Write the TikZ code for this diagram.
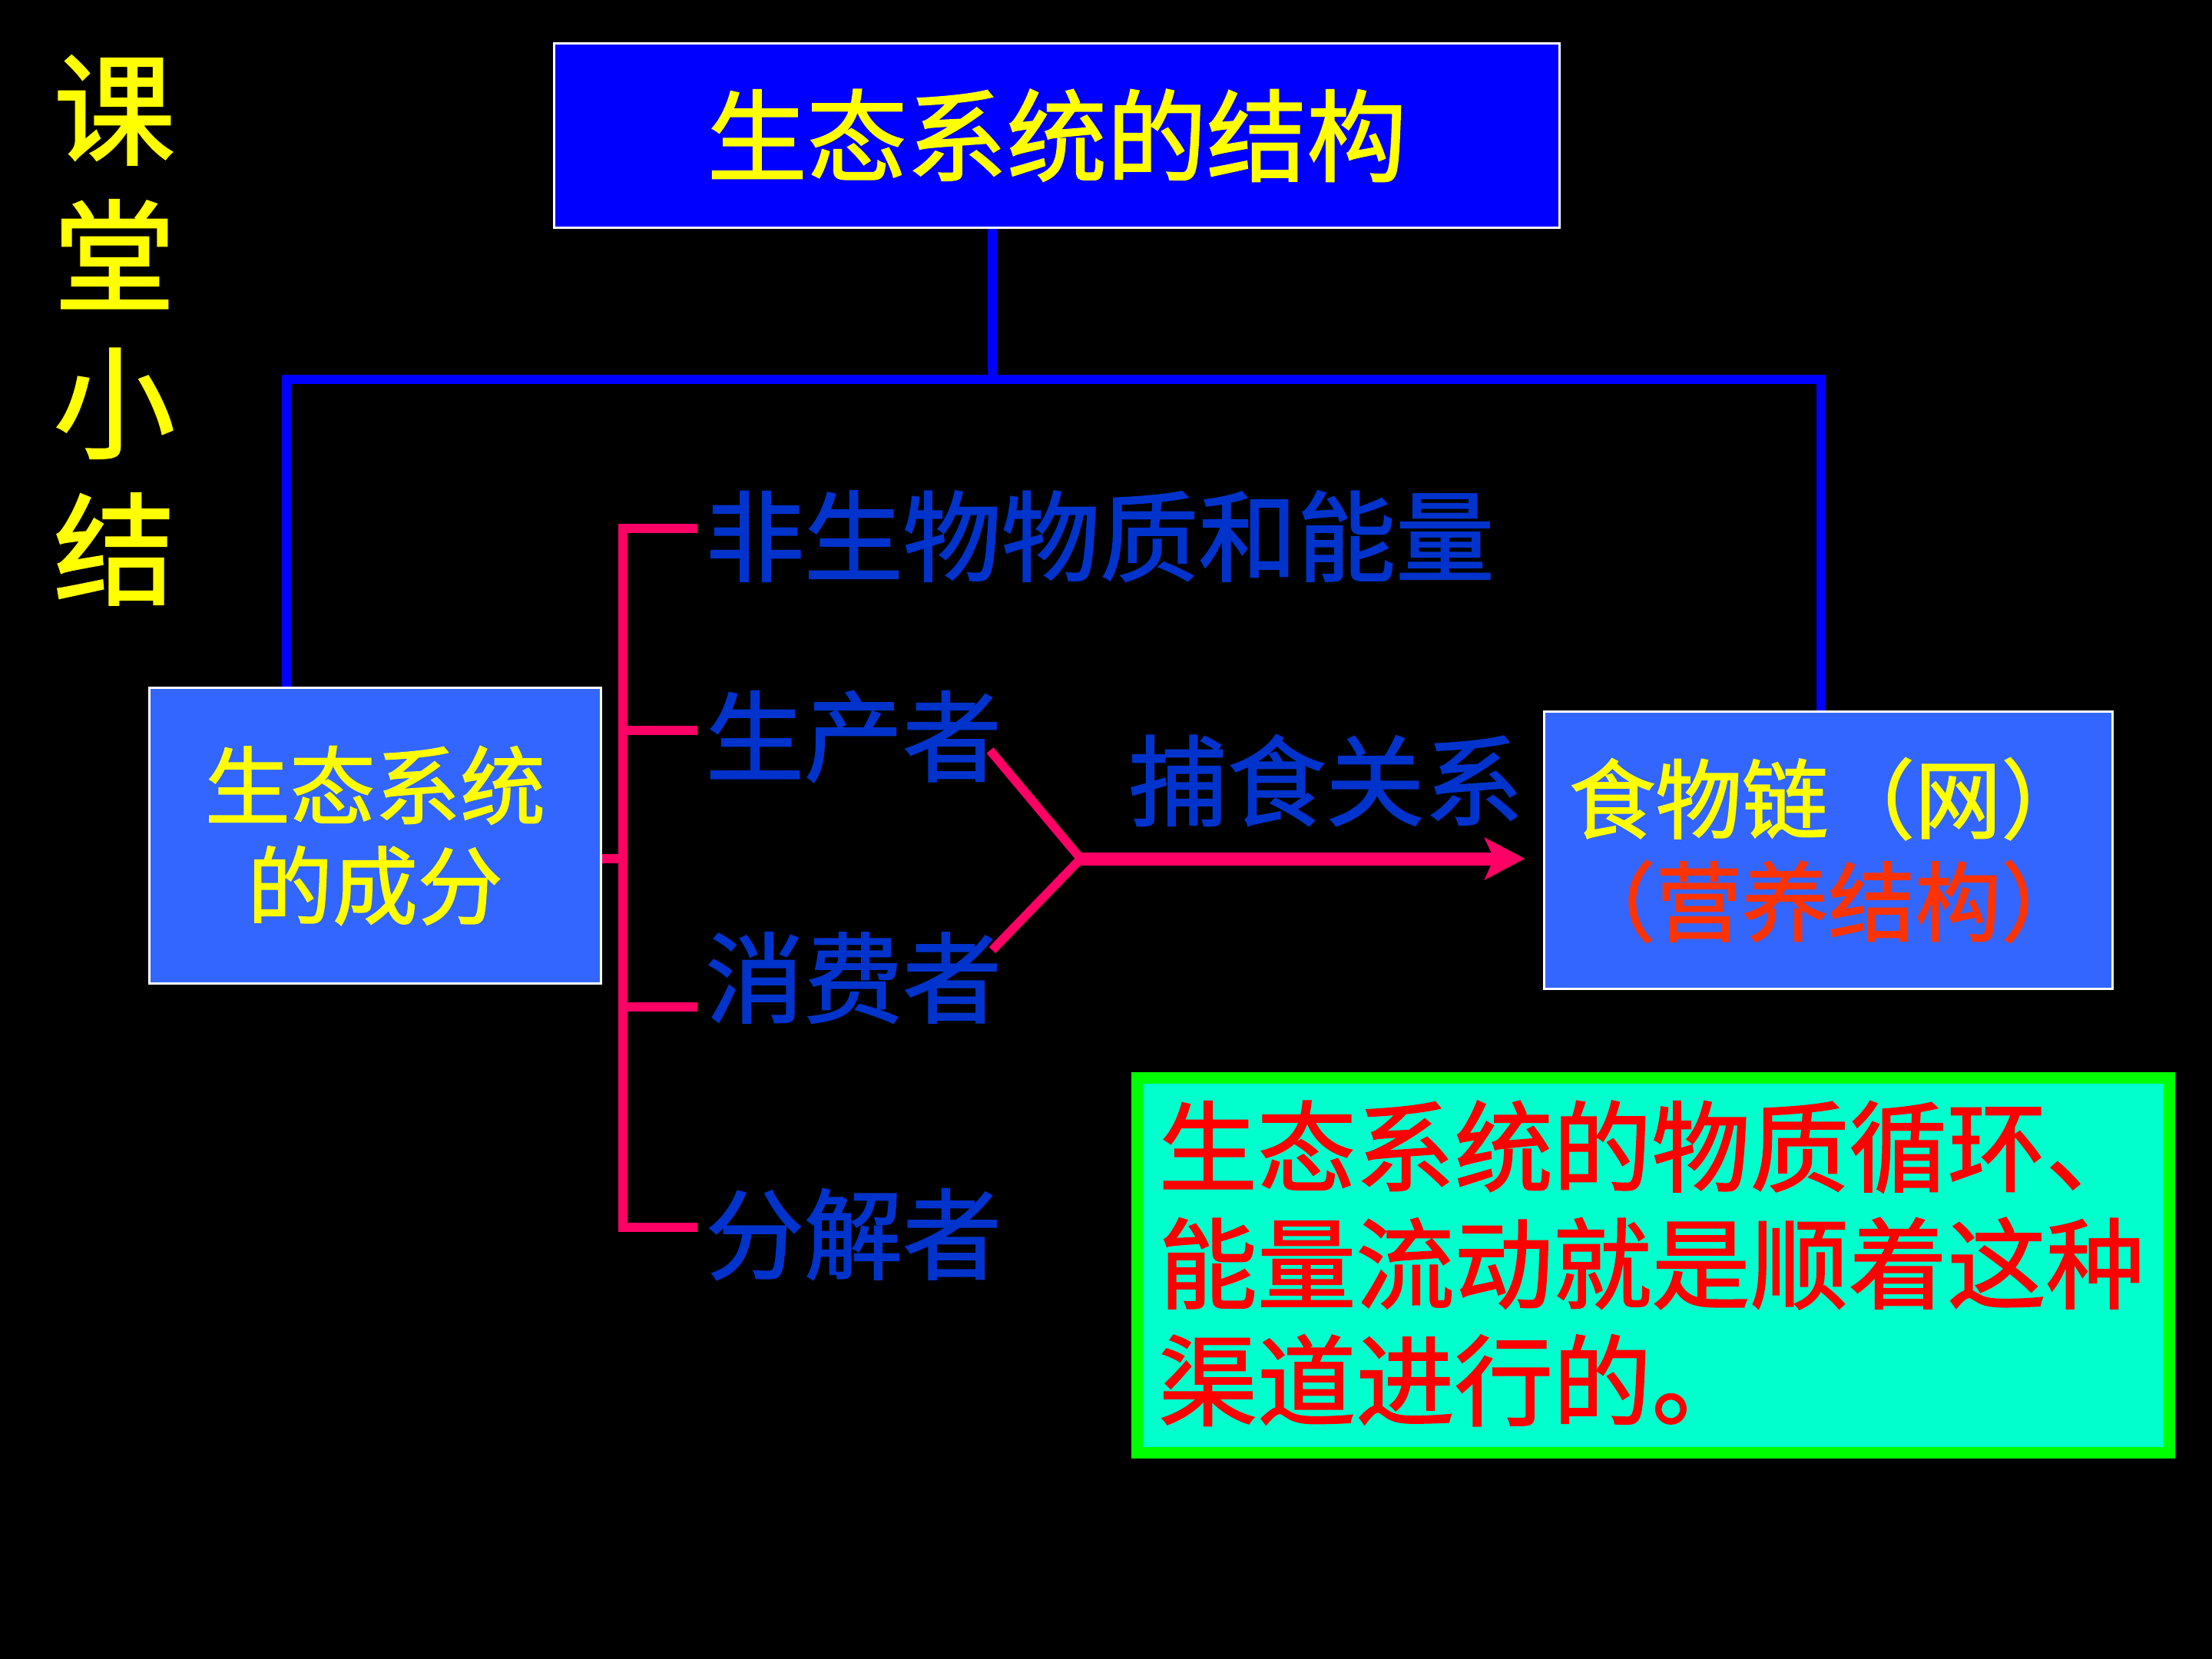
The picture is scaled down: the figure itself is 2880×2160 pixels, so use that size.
\documentclass[tikz,border=0pt]{standalone}
\usepackage{fontspec}
\setmainfont{Noto Sans CJK SC}[FakeBold=1.5]
\usetikzlibrary{arrows.meta}
\definecolor{titleblue}{RGB}{0,0,255}
\definecolor{boxblue}{RGB}{51,102,255}
\definecolor{ylw}{RGB}{255,255,0}
\definecolor{lblblue}{RGB}{0,51,204}
\definecolor{pinkred}{RGB}{255,0,102}
\definecolor{orangered}{RGB}{255,51,0}
\definecolor{brightgreen}{RGB}{0,255,0}
\definecolor{aqua}{RGB}{0,255,204}
\definecolor{txtred}{RGB}{255,0,0}
\tikzset{
  box/.style={draw=white, line width=0.03cm, rectangle, inner sep=0pt, align=center},
  lbl/.style={anchor=west, inner sep=0pt, text=lblblue, font=\fontsize{36.5pt}{43pt}\selectfont},
  blueline/.style={draw=titleblue, line width=0.12cm, line join=miter},
  redline/.style={draw=pinkred, line width=0.115cm, line join=miter},
  arrowline/.style={draw=pinkred, line width=0.17cm, -{Stealth[length=0.52cm, width=0.54cm, inset=0.12cm]}},
}
\begin{document}
\begin{tikzpicture}[x=0.01cm, y=-0.01cm]
\useasboundingbox[fill=black] (0,0) rectangle (2880,2160);

% side title
\node[inner sep=0pt, align=center, text=ylw, font=\fontsize{45pt}{54.3pt}\selectfont] (side) at (149,430) {课\\堂\\小\\结};

% main title
\node[box, fill=titleblue, minimum width=13.08cm, minimum height=2.39cm, text=ylw, font=\fontsize{37pt}{43pt}\selectfont] (title) at (1376,176.5) {生态系统的结构};

% components box
\node[box, fill=boxblue, minimum width=5.87cm, minimum height=3.84cm, text=ylw, font=\fontsize{31.5pt}{37pt}\selectfont] (comp) at (488.5,1088) {生态系统\\的成分};

% food chain box
\node[box, fill=boxblue, minimum width=7.39cm, minimum height=3.60cm, font=\fontsize{32pt}{38pt}\selectfont] (chain) at (2380.5,1107) {\textcolor{ylw}{食物链（网）}\\\textcolor{orangered}{（营养结构）}};

% labels
\node[lbl] (abio) at (918,698) {非生物物质和能量};
\node[lbl] (prod) at (918,959) {生产者};
\node[lbl] (cons) at (918,1273) {消费者};
\node[lbl] (decomp) at (918,1607) {分解者};
\node[lbl] (pred) at (1469,1016) {捕食关系};

% note box
\node[draw=brightgreen, fill=aqua, line width=0.15cm, rectangle, minimum width=13.44cm, minimum height=4.88cm] (note) at (2152.5,1647.5) {};
\node[anchor=west, inner sep=0pt, align=left, text=txtred, font=\fontsize{36.5pt}{43.3pt}\selectfont] (notetext) at (1508,1645) {生态系统的物质循环、\\能量流动就是顺着这种\\渠道进行的。};

% blue connectors
\coordinate (hub) at (1292,494);
\coordinate (lc) at (373,494);
\coordinate (rc) at (2371,494);
\draw[blueline] (title.south -| hub) -- (hub);
\draw[blueline] (lc |- comp.north) -- (lc) -- (rc) -- (rc |- chain.north);

% red bracket
\coordinate (bx) at (811,688);
\coordinate (t1) at (908,688);
\coordinate (t2) at (908,951);
\coordinate (t3) at (908,1311);
\coordinate (t4) at (908,1598);
\coordinate (v1) at (1289,977);
\coordinate (vj) at (1407,1118);
\coordinate (v2) at (1292,1237);
\draw[redline] (t1) -- (t1 -| bx) -- (t4 -| bx) -- (t4);
\draw[redline] (t2 -| bx) -- (t2);
\draw[redline] (t3 -| bx) -- (t3);
\draw[redline] (comp.east |- vj) -- (bx |- vj);
\draw[redline] (v1) -- (vj) -- (v2);
\draw[arrowline, shorten >=0.24cm] (vj) -- (chain.west |- vj);
\end{tikzpicture}
\end{document}
